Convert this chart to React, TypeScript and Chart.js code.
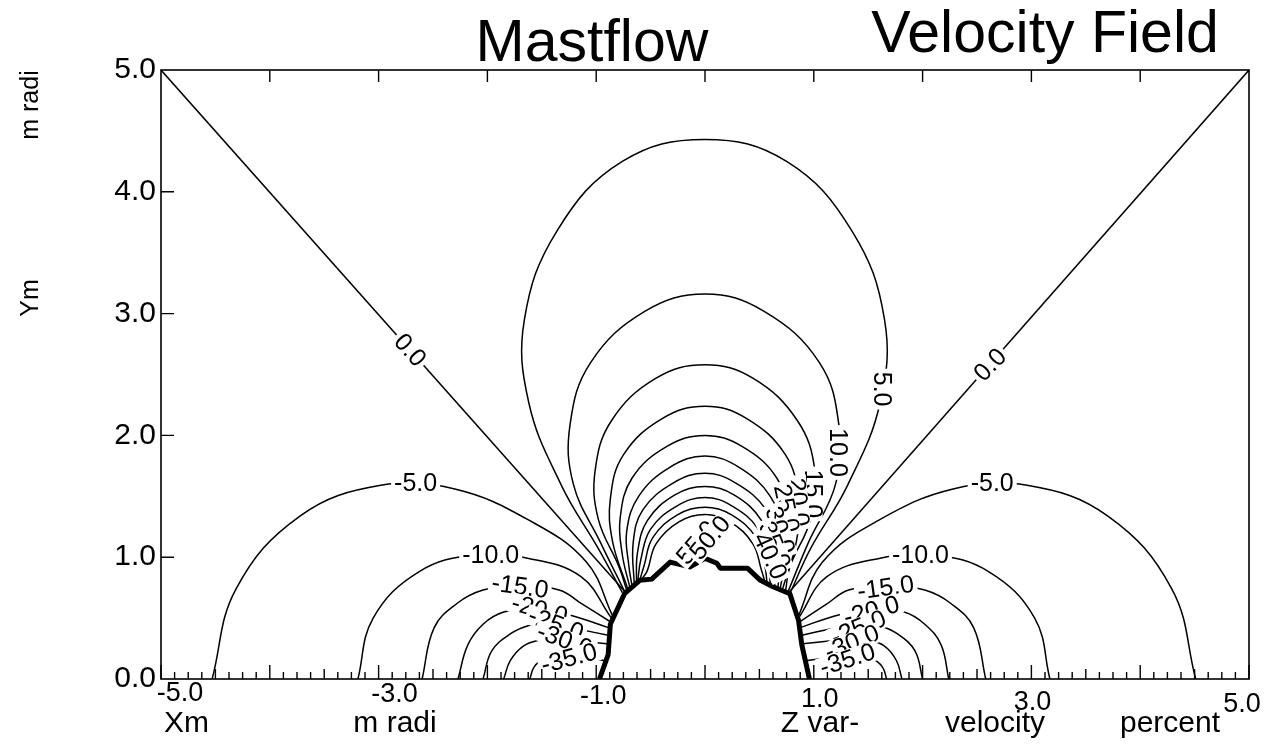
import React, { useEffect, useRef } from 'react';
import { Chart, registerables } from 'chart.js';

Chart.register(...registerables);

type Pt = [number, number];

const FONT = "'Liberation Sans', Arial, Helvetica, sans-serif";

// axis ticks
const xTickValues = [-5, -3, -1, 1, 3, 5];
const yTickValues = [0, 1, 2, 3, 4, 5];
const topTickValues = [-4, -3, -2, -1, 0, 1, 2, 3, 4];
const leftTickValues = [1, 2, 3, 4];

// cylinder (thick outline)
const cylinder: Pt[] = [[-0.97, 0], [-0.89, 0.2], [-0.87, 0.45], [-0.74, 0.70], [-0.60, 0.81], [-0.49, 0.82], [-0.32, 0.96], [-0.14, 0.92], [0.00, 0.99], [0.11, 0.95], [0.14, 0.91], [0.39, 0.91], [0.51, 0.81], [0.62, 0.76], [0.78, 0.70], [0.86, 0.48], [0.89, 0.28], [0.96, 0]];

// zero lines
const zeroLeft: Pt[] = [[-5.0, 5.0], [-0.74, 0.72]];
const zeroRight: Pt[] = [[0.78, 0.72], [5.0, 5.0]];

// positive contours (above the cylinder)
const pos5: Pt[] = [[-0.76, 0.71], [-0.98, 1.07], [-1.32, 1.59], [-1.62, 2.27], [-1.66, 2.95], [-1.36, 3.68], [-0.76, 4.25], [0.00, 4.43], [0.75, 4.25], [1.35, 3.68], [1.65, 2.95], [1.61, 2.27], [1.31, 1.59], [0.97, 1.07], [0.78, 0.70]];
const pos10: Pt[] = [[-0.74, 0.72], [-0.96, 1.12], [-1.21, 1.60], [-1.24, 2.09], [-1.05, 2.60], [-0.55, 3.02], [0.00, 3.16], [0.54, 3.02], [1.05, 2.60], [1.23, 2.09], [1.20, 1.60], [0.95, 1.12], [0.76, 0.71]];
const pos15: Pt[] = [[-0.72, 0.73], [-0.79, 0.92], [-0.98, 1.31], [-1.01, 1.71], [-0.86, 2.12], [-0.45, 2.47], [0.00, 2.58], [0.44, 2.47], [0.85, 2.12], [1.01, 1.71], [0.97, 1.31], [0.78, 0.92], [0.74, 0.72]];
const pos20: Pt[] = [[-0.71, 0.74], [-0.85, 1.13], [-0.87, 1.48], [-0.75, 1.84], [-0.39, 2.14], [0.00, 2.24], [0.38, 2.14], [0.74, 1.84], [0.86, 1.48], [0.84, 1.13], [0.71, 0.73]];
const pos25: Pt[] = [[-0.69, 0.75], [-0.76, 1.02], [-0.78, 1.32], [-0.67, 1.65], [-0.35, 1.91], [0.00, 2.00], [0.34, 1.91], [0.66, 1.65], [0.77, 1.32], [0.75, 1.02], [0.69, 0.74]];
const pos30: Pt[] = [[-0.67, 0.76], [-0.70, 0.93], [-0.72, 1.21], [-0.61, 1.50], [-0.32, 1.74], [0.00, 1.83], [0.31, 1.74], [0.60, 1.50], [0.71, 1.21], [0.69, 0.93], [0.67, 0.75]];
const pos35: Pt[] = [[-0.65, 0.77], [-0.66, 1.12], [-0.57, 1.39], [-0.29, 1.61], [0.00, 1.69], [0.28, 1.61], [0.56, 1.39], [0.65, 1.12], [0.64, 0.76]];
const pos40: Pt[] = [[-0.63, 0.78], [-0.62, 1.04], [-0.53, 1.30], [-0.28, 1.51], [0.00, 1.58], [0.27, 1.51], [0.52, 1.30], [0.61, 1.04], [0.62, 0.77]];
const pos45: Pt[] = [[-0.62, 0.79], [-0.59, 0.98], [-0.50, 1.23], [-0.26, 1.42], [0.00, 1.49], [0.25, 1.42], [0.49, 1.23], [0.58, 0.98], [0.60, 0.78]];
const pos50: Pt[] = [[-0.60, 0.81], [-0.56, 0.93], [-0.48, 1.16], [-0.25, 1.35], [0.00, 1.41], [0.24, 1.35], [0.47, 1.16], [0.55, 0.93], [0.57, 0.79]];
const pos55: Pt[] = [[-0.58, 0.82], [-0.53, 0.89], [-0.45, 1.11], [-0.24, 1.29], [0.00, 1.35], [0.23, 1.29], [0.44, 1.11], [0.52, 0.89], [0.55, 0.80]];

// negative contours, left side
const negL5: Pt[] = [[-4.53, 0], [-4.31, 0.74], [-3.72, 1.34], [-2.98, 1.59], [-2.30, 1.56], [-1.61, 1.30], [-1.09, 0.96], [-0.85, 0.52]];
const negL10: Pt[] = [[-3.19, 0], [-3.05, 0.50], [-2.63, 0.88], [-2.11, 1.02], [-1.62, 0.99], [-1.14, 0.84], [-0.86, 0.50]];
const negL15: Pt[] = [[-2.60, 0], [-2.49, 0.42], [-2.28, 0.62], [-2.04, 0.73], [-1.70, 0.77], [-1.34, 0.73], [-1.12, 0.61], [-0.87, 0.47]];
const negL20: Pt[] = [[-2.27, 0], [-2.18, 0.28], [-2.04, 0.45], [-1.85, 0.55], [-1.54, 0.58], [-1.22, 0.52], [-0.88, 0.42]];
const negL25: Pt[] = [[-2.04, 0], [-1.96, 0.23], [-1.79, 0.37], [-1.62, 0.44], [-1.44, 0.46], [-1.17, 0.41], [-0.89, 0.36]];
const negL30: Pt[] = [[-1.85, 0], [-1.79, 0.15], [-1.67, 0.27], [-1.52, 0.32], [-1.36, 0.33], [-1.14, 0.31], [-0.90, 0.29]];
const negL35: Pt[] = [[-1.61, 0], [-1.57, 0.10], [-1.47, 0.17], [-1.34, 0.19], [-1.14, 0.18], [-0.92, 0.15]];

// negative contours, right side
const negR5: Pt[] = [[4.51, 0], [4.29, 0.74], [3.70, 1.34], [2.96, 1.59], [2.28, 1.56], [1.59, 1.30], [1.08, 0.96], [0.86, 0.52]];
const negR10: Pt[] = [[3.17, 0], [3.03, 0.50], [2.61, 0.88], [2.09, 1.02], [1.60, 0.99], [1.12, 0.84], [0.86, 0.50]];
const negR15: Pt[] = [[2.58, 0], [2.47, 0.42], [2.26, 0.62], [2.02, 0.73], [1.68, 0.77], [1.32, 0.73], [1.11, 0.61], [0.87, 0.47]];
const negR20: Pt[] = [[2.24, 0], [2.17, 0.28], [2.02, 0.45], [1.83, 0.55], [1.52, 0.58], [1.20, 0.52], [0.87, 0.42]];
const negR25: Pt[] = [[2.00, 0], [1.93, 0.23], [1.77, 0.37], [1.60, 0.44], [1.42, 0.46], [1.15, 0.41], [0.89, 0.36]];
const negR30: Pt[] = [[1.81, 0], [1.76, 0.15], [1.65, 0.27], [1.50, 0.32], [1.34, 0.33], [1.12, 0.31], [0.90, 0.29]];
const negR35: Pt[] = [[1.67, 0], [1.63, 0.10], [1.53, 0.17], [1.40, 0.19], [1.20, 0.18], [0.93, 0.15]];

const curvedContours: Pt[][] = [
  pos5, pos10, pos15, pos20, pos25, pos30, pos35, pos40, pos45, pos50, pos55,
  negL5, negL10, negL15, negL20, negL25, negL30, negL35,
  negR5, negR10, negR15, negR20, negR25, negR30, negR35,
];

// contour labels: text, data position, rotation (deg)
const contourLabels: { t: string; x: number; y: number; r: number }[] = [
  { t: '0.0', x: -2.71, y: 2.70, r: 48 },
  { t: '0.0', x: 2.62, y: 2.58, r: -46 },
  { t: '5.0', x: 1.63, y: 2.38, r: 90 },
  { t: '10.0', x: 1.22, y: 1.86, r: 90 },
  { t: '15.0', x: 0.99, y: 1.52, r: 90 },
  { t: '20.0', x: 0.86, y: 1.45, r: 84 },
  { t: '25.0', x: 0.75, y: 1.40, r: 78 },
  { t: '30.0', x: 0.69, y: 1.22, r: 72 },
  { t: '35.0', x: 0.64, y: 1.10, r: 68 },
  { t: '40.0', x: 0.60, y: 1.01, r: 65 },
  { t: '55.0', x: -0.075, y: 1.12, r: -50 },
  { t: '50.0', x: 0.046, y: 1.16, r: -50 },
  { t: '-5.0', x: -2.66, y: 1.61, r: 0 },
  { t: '-10.0', x: -1.97, y: 1.02, r: 0 },
  { t: '-15.0', x: -1.70, y: 0.76, r: 8 },
  { t: '-20.0', x: -1.52, y: 0.57, r: 15 },
  { t: '-25.0', x: -1.37, y: 0.45, r: 20 },
  { t: '-30.0', x: -1.29, y: 0.32, r: 20 },
  { t: '-35.0', x: -1.25, y: 0.17, r: -15 },
  { t: '-5.0', x: 2.64, y: 1.61, r: 0 },
  { t: '-10.0', x: 1.98, y: 1.02, r: 0 },
  { t: '-15.0', x: 1.66, y: 0.75, r: -8 },
  { t: '-20.0', x: 1.53, y: 0.56, r: -15 },
  { t: '-25.0', x: 1.41, y: 0.42, r: -22 },
  { t: '-30.0', x: 1.35, y: 0.30, r: -22 },
  { t: '-35.0', x: 1.31, y: 0.16, r: -18 },
];

// layout / style for texts outside the plot
const xLabelShift = [19, 16, 7, 6, 1, -7];
const xLabelY = [694, 695, 697, 700, 703, 705];
const titles = [
  { t: 'Mastflow', x: 592, y: 61 },
  { t: 'Velocity Field', x: 1045, y: 52 },
];
const bottomTitles = [
  { t: 'Xm', x: 164, align: 'left' as CanvasTextAlign },
  { t: 'm radi', x: 395, align: 'center' as CanvasTextAlign },
  { t: 'Z var-', x: 820, align: 'center' as CanvasTextAlign },
  { t: 'velocity', x: 995, align: 'center' as CanvasTextAlign },
  { t: 'percent', x: 1170, align: 'center' as CanvasTextAlign },
];
const leftTitles = [
  { t: 'm radi', y: 105 },
  { t: 'Ym', y: 298 },
];

const toXY = (pts: Pt[]) => pts.map(([x, y]) => ({ x, y }));

const overlayPlugin = {
  id: 'overlay',
  afterDatasetsDraw(chart: any) {
    const ctx: CanvasRenderingContext2D = chart.ctx;
    const xs = chart.scales.x;
    const ys = chart.scales.y;
    const a = chart.chartArea;
    ctx.save();
    // contour labels with white backing
    ctx.font = `25px ${FONT}`;
    ctx.textAlign = 'center';
    ctx.textBaseline = 'middle';
    for (const lab of contourLabels) {
      const px = xs.getPixelForValue(lab.x);
      const py = ys.getPixelForValue(lab.y);
      ctx.save();
      ctx.translate(px, py);
      ctx.rotate((lab.r * Math.PI) / 180);
      const w = ctx.measureText(lab.t).width;
      ctx.fillStyle = '#fff';
      ctx.fillRect(-w / 2 - 3, -10, w + 6, 20);
      ctx.fillStyle = '#000';
      ctx.fillText(lab.t, 0, 1);
      ctx.restore();
    }
    // frame
    ctx.strokeStyle = '#000';
    ctx.lineWidth = 1.6;
    ctx.strokeRect(a.left, a.top, a.right - a.left, a.bottom - a.top);
    // top ticks (inward)
    ctx.lineWidth = 1.4;
    ctx.beginPath();
    for (const v of topTickValues) {
      const px = xs.getPixelForValue(v);
      ctx.moveTo(px, a.top);
      ctx.lineTo(px, a.top + 12);
    }
    // left ticks (inward)
    for (const v of leftTickValues) {
      const py = ys.getPixelForValue(v);
      ctx.moveTo(a.left, py);
      ctx.lineTo(a.left + 13, py);
    }
    // bottom ticks (inward), fine spacing
    for (let i = -40; i <= 40; i++) {
      const v = i / 8;
      const px = xs.getPixelForValue(v);
      const len = i % 8 === 0 ? 14 : i % 4 === 0 ? 10 : 7;
      ctx.moveTo(px, a.bottom);
      ctx.lineTo(px, a.bottom - len);
    }
    ctx.stroke();
    // x tick labels placed from the x scale
    ctx.fillStyle = '#000';
    ctx.font = `27px ${FONT}`;
    ctx.textAlign = 'center';
    ctx.textBaseline = 'middle';
    xTickValues.forEach((v, i) => {
      ctx.fillText(v.toFixed(1), xs.getPixelForValue(v) + xLabelShift[i], xLabelY[i]);
    });
    ctx.restore();
  },
  afterDraw(chart: any) {
    const ctx: CanvasRenderingContext2D = chart.ctx;
    ctx.save();
    ctx.fillStyle = '#000';
    ctx.font = `59px ${FONT}`;
    ctx.textAlign = 'center';
    ctx.textBaseline = 'alphabetic';
    for (const t of titles) ctx.fillText(t.t, t.x, t.y);
    ctx.font = `30px ${FONT}`;
    for (const t of bottomTitles) {
      ctx.textAlign = t.align;
      ctx.fillText(t.t, t.x, 732);
    }
    ctx.font = `25px ${FONT}`;
    ctx.textAlign = 'center';
    ctx.textBaseline = 'middle';
    for (const t of leftTitles) {
      ctx.save();
      ctx.translate(31, t.y);
      ctx.rotate(-Math.PI / 2);
      ctx.fillText(t.t, 0, 0);
      ctx.restore();
    }
    ctx.restore();
  },
};

export default function App() {
  const ref = useRef<HTMLCanvasElement | null>(null);
  useEffect(() => {
    if (!ref.current) return;
    const datasets: any[] = [];
    for (const c of curvedContours) {
      datasets.push({
        data: toXY(c),
        showLine: true,
        borderColor: '#000',
        borderWidth: 1.5,
        pointRadius: 0,
        tension: 0.4,
        fill: false,
      });
    }
    for (const c of [zeroLeft, zeroRight]) {
      datasets.push({
        data: toXY(c),
        showLine: true,
        borderColor: '#000',
        borderWidth: 1.5,
        pointRadius: 0,
        tension: 0,
        fill: false,
      });
    }
    datasets.push({
      data: toXY(cylinder),
      showLine: true,
      borderColor: '#000',
      borderWidth: 5,
      borderJoinStyle: 'round',
      pointRadius: 0,
      tension: 0,
      fill: false,
    });
    const chart = new Chart(ref.current, {
      type: 'scatter',
      data: { datasets },
      options: {
        animation: false,
        responsive: false,
        maintainAspectRatio: false,
        devicePixelRatio: 1,
        events: [],
        layout: { padding: { left: 0, top: 70, right: 30, bottom: 0 } },
        plugins: { legend: { display: false }, tooltip: { enabled: false }, title: { display: false } },
        scales: {
          x: {
            type: 'linear',
            position: 'bottom',
            min: -5,
            max: 5,
            grid: { display: false, drawTicks: false },
            border: { display: false },
            afterBuildTicks: (s: any) => { s.ticks = xTickValues.map((v) => ({ value: v })); },
            afterFit: (s: any) => { s.height = 67; },
            ticks: { display: false },
          },
          y: {
            type: 'linear',
            min: 0,
            max: 5,
            grid: { display: false, drawTicks: false },
            border: { display: false },
            afterBuildTicks: (s: any) => { s.ticks = yTickValues.map((v) => ({ value: v })); },
            afterFit: (s: any) => { s.width = 161; },
            ticks: {
              autoSkip: false,
              padding: 5,
              color: '#000',
              font: { family: FONT, size: 30 },
              callback: (v: any) => Number(v).toFixed(1),
            },
          },
        },
      },
      plugins: [overlayPlugin],
    } as any);
    return () => chart.destroy();
  }, []);
  return (
    <div style={{ position: 'fixed', left: 0, top: 0, width: 1279, height: 746, background: '#fff' }}>
      <canvas ref={ref} width={1279} height={746} style={{ display: 'block', width: 1279, height: 746 }} />
    </div>
  );
}
